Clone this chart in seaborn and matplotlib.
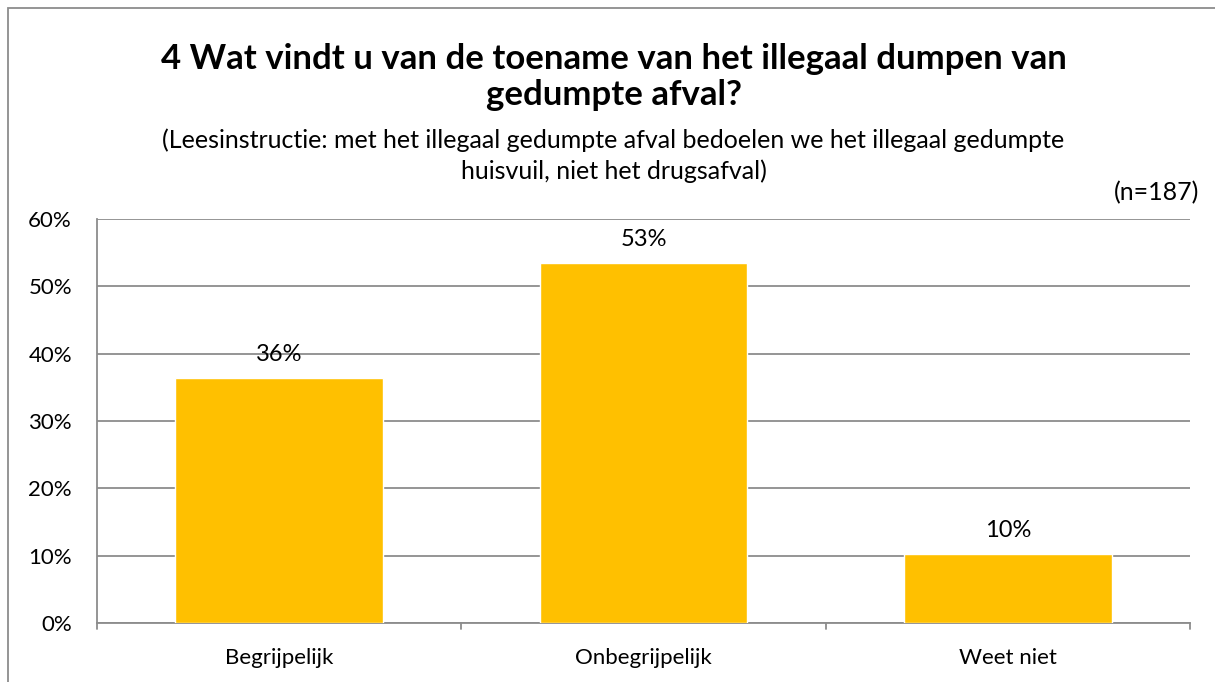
import matplotlib.pyplot as plt
import seaborn as sns
import pandas as pd
from matplotlib.patches import Rectangle

# data (n=187)
categories = ['Begrijpelijk', 'Onbegrijpelijk', 'Weet niet']
values = [36.4, 53.5, 10.2]
value_labels = ['36%', '53%', '10%']
y_ticks = [0, 10, 20, 30, 40, 50, 60]
y_tick_labels = ['0%', '10%', '20%', '30%', '40%', '50%', '60%']

df = pd.DataFrame({'categorie': categories, 'percentage': values})

sns.set_style('white')
plt.rcParams['font.family'] = ['Lato', 'DejaVu Sans']
plt.rcParams['text.color'] = 'black'
plt.rcParams['ytick.color'] = 'black'

fig = plt.figure(figsize=(12.15, 6.82), dpi=100)
ax = fig.add_axes([0.0798, 0.0865, 0.8996, 0.5924])

sns.barplot(data=df, x='categorie', y='percentage', color='#FFC000',
            width=0.57, saturation=1, ax=ax, zorder=3)

ax.set_ylim(0, 60)
ax.set_xlim(-0.5, 2.5)
ax.set_yticks(y_ticks)
ax.set_yticklabels(y_tick_labels, fontsize=16)
ax.set_xticks([])
ax.set_xlabel('')
ax.set_ylabel('')
ax.yaxis.grid(True, color='#8c8c8c', linewidth=1.3, zorder=0)
ax.set_axisbelow(True)
for s in ['top', 'right']:
    ax.spines[s].set_visible(False)
for s in ['left', 'bottom']:
    ax.spines[s].set_color('#8c8c8c')
    ax.spines[s].set_linewidth(1.3)
ax.tick_params(axis='y', length=6, color='#8c8c8c', width=1.3, pad=12,
               labelcolor='black')

# category labels and separating ticks
for i, c in enumerate(categories):
    ax.text(i, -5.2, c, ha='center', va='center', fontsize=16)
for b in [-0.5, 0.5, 1.5, 2.5]:
    ax.plot([b, b], [0, -0.9], color='#8c8c8c', lw=1.3, clip_on=False)

for i, (v, lab) in enumerate(zip(values, value_labels)):
    ax.text(i, v + 3.5, lab, ha='center', va='center', fontsize=17)

fig.text(0.505, 0.914, '4 Wat vindt u van de toename van het illegaal dumpen van',
         ha='center', va='center', fontsize=25, fontweight='bold')
fig.text(0.505, 0.860, 'gedumpte afval?', ha='center', va='center',
         fontsize=25, fontweight='bold')
fig.text(0.505, 0.795, '(Leesinstructie: met het illegaal gedumpte afval bedoelen we het illegaal gedumpte',
         ha='center', va='center', fontsize=18)
fig.text(0.505, 0.749, 'huisvuil, niet het drugsafval)', ha='center', va='center', fontsize=18)
fig.text(0.987, 0.717, '(n=187)', ha='right', va='center', fontsize=18)

fig.patches.append(Rectangle((8 / 1215, -0.1), 1.2, 1.1 - 8 / 682,
                             transform=fig.transFigure, fill=False,
                             edgecolor='#8c8c8c', linewidth=1.3))

fig.savefig('out.png', dpi=100)
